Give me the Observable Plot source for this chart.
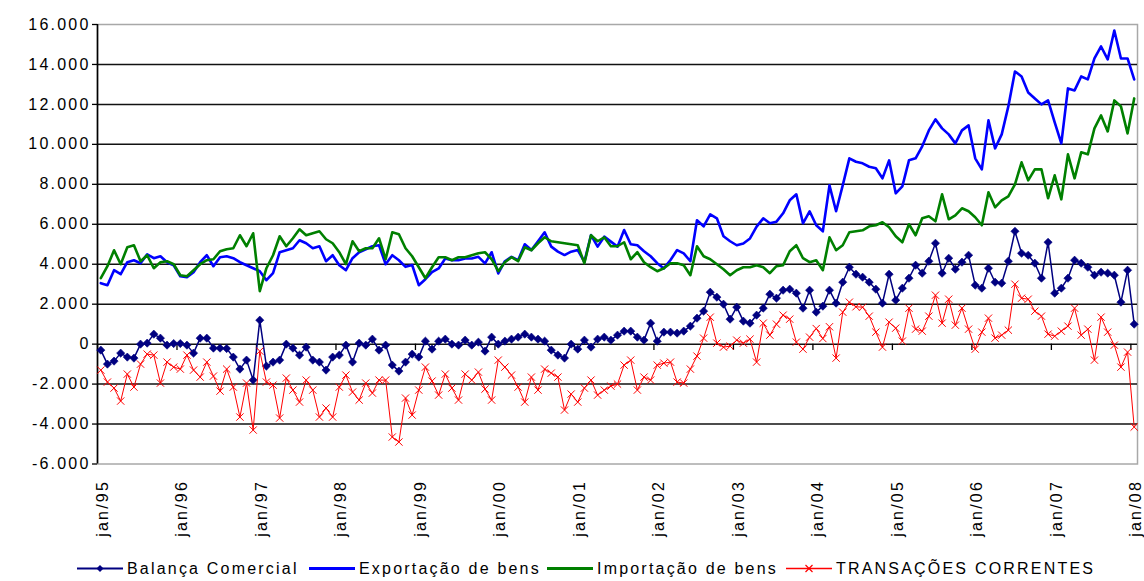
<!DOCTYPE html>
<html>
<head>
<meta charset="utf-8">
<script src="https://cdn.jsdelivr.net/npm/d3@7"></script>
<script src="https://cdn.jsdelivr.net/npm/@observablehq/plot@0.6"></script>
<style>
  html, body { margin: 0; padding: 0; background: #fff; }
  body { font-family: "Liberation Sans", Arial, sans-serif; color: #000; width: 1144px; overflow: hidden; }
  #legend { position: relative; width: 1144px; height: 25px; font-size: 16px; letter-spacing: 2.2px; }
  #legend .item { position: absolute; top: 0; height: 25px; display: flex; align-items: center; white-space: nowrap; }
  #legend .item span { margin-left: 4px; }
</style>
</head>
<body>
<div id="chart"></div>
<div id="legend"></div>
<script>
// ---- categories / labels ----
const tickLabels = ["jan/95","jan/96","jan/97","jan/98","jan/99","jan/00","jan/01",
                    "jan/02","jan/03","jan/04","jan/05","jan/06","jan/07","jan/08"];
const seriesNames = ["Balança Comercial", "Exportação de bens", "Importação de bens", "TRANSAÇÕES CORRENTES"];
const yTicks = [-6000,-4000,-2000,0,2000,4000,6000,8000,10000,12000,14000,16000];

// ---- monthly values, jan/95 ... jan/08 (US$ milhões) ----
const balanca = [
  -300,-1000,-850,-450,-650,-700,0,50,500,300,-50,30,
  30,-50,-450,300,300,-200,-200,-220,-650,-1250,-800,-1800,
  1200,-1100,-900,-800,0,-200,-550,-150,-800,-900,-1300,-650,
  -550,-50,-900,50,-50,250,-300,-50,-1050,-1350,-900,-500,
  -650,150,-250,150,250,0,-50,200,-50,100,-350,350,
  0,150,250,350,500,350,250,150,-300,-550,-700,0,
  -250,200,-150,250,350,200,450,650,650,350,200,1050,
  150,600,600,550,650,900,1300,1650,2600,2350,2000,1250,
  1850,1150,1050,1450,1800,2500,2300,2700,2750,2550,1800,2700,
  1600,1900,2700,2050,3100,3850,3500,3350,3100,2750,2050,3500,
  2200,2800,3300,3950,3550,4150,5050,3550,4300,3750,4100,4450,
  2950,2800,3800,3100,3050,4150,5650,4550,4450,4050,3300,5100,
  2550,2800,3300,4200,4050,3850,3450,3600,3550,3450,2100,3700,
  1000
];
const exportacao = [
  3050,2950,3700,3500,4100,4200,4050,4500,4300,4400,4100,3950,
  3400,3350,3600,4100,4450,3900,4350,4400,4300,4100,3950,3800,
  3650,3200,3550,4600,4700,4800,5200,5050,4800,4900,4150,4450,
  3950,3700,4300,4600,4750,4900,4950,4000,4450,4200,3870,3960,
  2950,3250,3600,3790,4290,4200,4200,4290,4290,4370,4040,4600,
  3540,4150,4370,4200,5000,4710,5150,5600,4880,4630,4460,4630,
  4710,4120,5460,4880,5380,5130,4880,5710,5000,4950,4650,4400,
  4050,3790,4210,4710,4540,4150,6200,5900,6500,6300,5400,5150,
  4950,5040,5290,5880,6300,6050,6130,6550,7200,7500,6050,6650,
  5950,5650,7950,6650,7950,9300,9130,9050,8880,8800,8300,9200,
  7550,7900,9200,9300,9900,10700,11250,10800,10500,10050,10700,10950,
  9300,8750,11200,9800,10500,11900,13650,13400,12600,12300,12000,12200,
  11100,10050,12800,12700,13400,13250,14300,14900,14250,15700,14300,14300,
  13250
];
const importacao = [
  3300,3900,4700,4000,4850,4950,4150,4450,3800,4100,4150,4000,
  3450,3400,3700,4000,4200,4250,4650,4750,4800,5450,4900,5550,
  2650,3800,4450,5400,4900,5300,5750,5450,5550,5650,5250,5050,
  4600,4000,5150,4650,4800,4800,5300,4250,5600,5500,4800,4400,
  3850,3300,3850,4350,4350,4200,4350,4350,4450,4550,4600,4250,
  3650,4100,4350,4150,4850,4700,5050,5350,5150,5100,5050,5000,
  4950,4050,5450,5150,5350,4900,4900,5100,4250,4600,4100,3850,
  3650,3800,4050,4050,3950,3450,4900,4400,4250,4000,3750,3450,
  3700,3850,3850,3950,3850,3550,3900,3950,4650,4950,4300,4100,
  4200,3700,5350,4700,4950,5600,5650,5700,5900,5950,6100,5850,
  5400,5100,6000,5450,6300,6400,6150,7500,6250,6450,6800,6650,
  6350,5950,7600,6850,7200,7400,8000,9100,8200,8750,8750,7300,
  8450,7250,9500,8300,9600,9500,10800,11450,10650,12200,11900,10550,
  12300
];
const transacoes = [
  -1300,-1900,-2200,-2850,-1500,-2150,-1000,-500,-550,-1950,-900,-1150,
  -1250,-550,-1300,-1650,-900,-1600,-2350,-1250,-2150,-3650,-1950,-4300,
  -350,-1900,-2050,-3700,-1700,-2300,-2900,-1800,-2300,-3650,-3200,-3650,
  -2150,-1550,-2400,-2800,-1950,-2450,-1800,-1800,-4650,-4900,-2700,-3550,
  -2300,-1150,-1850,-2550,-1500,-2200,-2800,-1500,-1800,-1400,-2250,-2800,
  -800,-1150,-1550,-2150,-2900,-1650,-2300,-1250,-1450,-1650,-3300,-2500,
  -2900,-2200,-1800,-2550,-2300,-2100,-2000,-1050,-800,-2300,-1650,-1800,
  -1050,-950,-900,-1900,-1950,-1250,-600,300,1350,50,-150,-100,
  200,50,250,-900,1050,450,1000,1450,1250,100,-250,350,
  780,280,870,-700,1600,2100,1870,1850,1400,600,-150,1100,
  800,150,1800,750,650,1400,2450,1050,2250,950,1800,750,
  -250,600,1300,300,450,700,3000,2300,2250,1650,1400,500,
  400,650,900,1800,450,750,-800,1350,600,-50,-1150,-400,
  -4150
];

// ---- build tables ----
const N = exportacao.length;
const months = d3.range(N);
const rows = arr => months.map(i => ({m: i, v: arr[i]}));
const balRows = rows(balanca), expRows = rows(exportacao), impRows = rows(importacao), tcRows = rows(transacoes);
const tickRows = tickLabels.map((t, k) => ({m: k * 12, t}));
const locale = d3.formatLocale({decimal: ",", thousands: ".", grouping: [3], currency: ["", ""], minus: "-"});
const fmt = locale.format(",");

const colors = {bal: "#000080", exp: "#0000ff", imp: "#008000", tc: "#ff0000"};

const chart = Plot.plot({
  width: 1144,
  height: 556,
  marginLeft: 97,
  marginRight: 7,
  marginTop: 24,
  marginBottom: 92.5,
  style: {fontFamily: '"Liberation Sans", Arial, sans-serif', fontSize: "16px", color: "#000", background: "#fff"},
  x: {type: "linear", domain: [-0.5, N - 0.5], axis: null},
  y: {domain: [-6000, 16000], axis: null},
  marks: [
    Plot.frame({stroke: "#a8a8a8", strokeWidth: 1.5}),
    Plot.ruleY(yTicks.filter(d => d > -6000 && d < 16000), {stroke: "#111", strokeWidth: 1.5}),
    Plot.ruleX([-0.5], {stroke: "#000", strokeWidth: 1.6}),
    Plot.axisY(yTicks, {label: null, tickSize: 5, tickPadding: 2, tickFormat: fmt, fontSize: 16, stroke: "#000", strokeWidth: 1.3}),
    Plot.ruleX(tickRows, {x: d => d.m - 0.5, y1: 0, y2: -320, stroke: "#000", strokeWidth: 1.3}),
    Plot.text(tickRows, {x: "m", y: -6000, text: "t", rotate: -90, textAnchor: "end", dy: 16, dx: 2, fontSize: 16, fill: "#000"}),
    Plot.line(balRows, {x: "m", y: "v", stroke: colors.bal, strokeWidth: 1.5}),
    Plot.dot(balRows, {x: "m", y: "v", symbol: "diamond2", r: 3.7, fill: colors.bal, stroke: colors.bal, strokeWidth: 0.6}),
    Plot.line(expRows, {x: "m", y: "v", stroke: colors.exp, strokeWidth: 2.6}),
    Plot.line(impRows, {x: "m", y: "v", stroke: colors.imp, strokeWidth: 2.6}),
    Plot.line(tcRows, {x: "m", y: "v", stroke: colors.tc, strokeWidth: 1}),
    Plot.dot(tcRows, {x: "m", y: "v", symbol: "times", r: 3.4, fill: "none", stroke: colors.tc, strokeWidth: 1})
  ]
});
d3.select(chart).selectAll("text").attr("letter-spacing", "2.2px");
document.getElementById("chart").appendChild(chart);

// ---- legend ----
const legendItems = [
  {name: seriesNames[0], color: colors.bal, w: 2, marker: "diamond", left: 77},
  {name: seriesNames[1], color: colors.exp, w: 3, marker: null, left: 309},
  {name: seriesNames[2], color: colors.imp, w: 3, marker: null, left: 547},
  {name: seriesNames[3], color: colors.tc, w: 1.5, marker: "times", left: 786}
];
const legend = d3.select("#legend");
for (const it of legendItems) {
  const item = legend.append("div").attr("class", "item").style("left", it.left + "px");
  const svg = item.append("svg").attr("width", 46).attr("height", 25);
  svg.append("line").attr("x1", 0).attr("x2", 46).attr("y1", 12.5).attr("y2", 12.5)
     .attr("stroke", it.color).attr("stroke-width", it.w);
  if (it.marker === "diamond") {
    svg.append("path").attr("d", "M23,9L26.5,12.5L23,16L19.5,12.5Z").attr("fill", it.color);
  } else if (it.marker === "times") {
    svg.append("path").attr("d", "M19.5,9L26.5,16M26.5,9L19.5,16").attr("stroke", it.color).attr("stroke-width", 1.2);
  }
  item.append("span").text(it.name);
}
</script>
</body>
</html>
